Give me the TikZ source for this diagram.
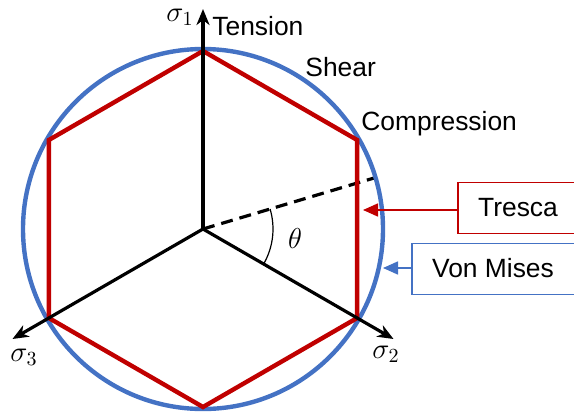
\documentclass[tikz,border=0pt]{standalone}
\usepackage{fontspec}
\setmainfont{Liberation Sans}
\usetikzlibrary{arrows.meta,calc}
\definecolor{tred}{RGB}{192,0,0}
\definecolor{vblue}{RGB}{68,114,196}
\begin{document}
\begin{tikzpicture}[x=0.5pt,y=-0.5pt,
  axis/.style={line width=1.6pt,-{Stealth[length=8pt,width=6.5pt,inset=2.5pt]}},
  lbl/.style={font=\fontsize{13.2}{15}\selectfont, inner sep=0pt},
  mlbl/.style={font=\fontsize{14}{16}\selectfont, inner sep=0pt},
  boxstyle/.style={draw, line width=0.8pt, minimum width=90pt, minimum height=25.5pt, anchor=west, inner sep=0pt, fill=white},
  ptr/.style={line width=0.8pt, -{Triangle[length=7.5pt,width=6.5pt]}}]
\useasboundingbox (0,0) rectangle (574,412);
\clip (0,0) rectangle (574,412);
\coordinate (O) at (203,229);
% dashed reference line
\coordinate (D) at ($(O)+(-16.6:180)$);
\draw[line width=1.6pt, dash pattern=on 6pt off 3.5pt] (O) -- (D);
% von Mises circle
\draw[vblue, line width=2.2pt] (O) circle[radius=180];
% Tresca hexagon
\coordinate (h1) at ($(O)+(-90:178)$);
\coordinate (h2) at ($(O)+(-150:178)$);
\coordinate (h3) at ($(O)+(150:178)$);
\coordinate (h4) at ($(O)+(90:178)$);
\coordinate (h5) at ($(O)+(30:178)$);
\coordinate (h6) at ($(O)+(-30:178)$);
\draw[tred, line width=2.2pt, line join=miter] (h1) -- (h2) -- (h3) -- (h4) -- (h5) -- (h6) -- cycle;
% axes
\coordinate (s1) at ($(O)+(-90:220)$);
\coordinate (s2) at ($(O)+(30:220)$);
\coordinate (s3) at ($(O)+(150:220)$);
\draw[axis] (O) -- (s1);
\draw[axis] (O) -- (s2);
\draw[axis] (O) -- (s3);
% theta arc
\draw[line width=0.6pt] ($(O)+(30:70)$) arc[start angle=30, end angle=-16.6, radius=70];
\node[mlbl] (th) at (295,238) {$\theta$};
% axis labels
\node[mlbl] (l1) at (180,17) {$\sigma_1$};
\node[mlbl] (l2) at (386,354) {$\sigma_2$};
\node[mlbl] (l3) at (24,357) {$\sigma_3$};
\node[lbl, anchor=west] (ten) at (212,26) {Tension};
\node[lbl, anchor=west] (she) at (305,67) {Shear};
\node[lbl, anchor=west] (com) at (361,124) {Compression};
% legend boxes
\node[boxstyle, draw=tred] (tbox) at (457,208) {};
\node[lbl] (ttext) at (518,208) {Tresca};
\coordinate (ttip) at (363,210);
\draw[ptr, tred] (tbox.west |- ttip) -- (ttip);
\node[boxstyle, draw=vblue] (vbox) at (411,269) {};
\node[lbl] (vtext) at (493,268) {Von Mises};
\coordinate (vtip) at (383,268);
\draw[ptr, vblue] (vbox.west |- vtip) -- (vtip);
\end{tikzpicture}
\end{document}
